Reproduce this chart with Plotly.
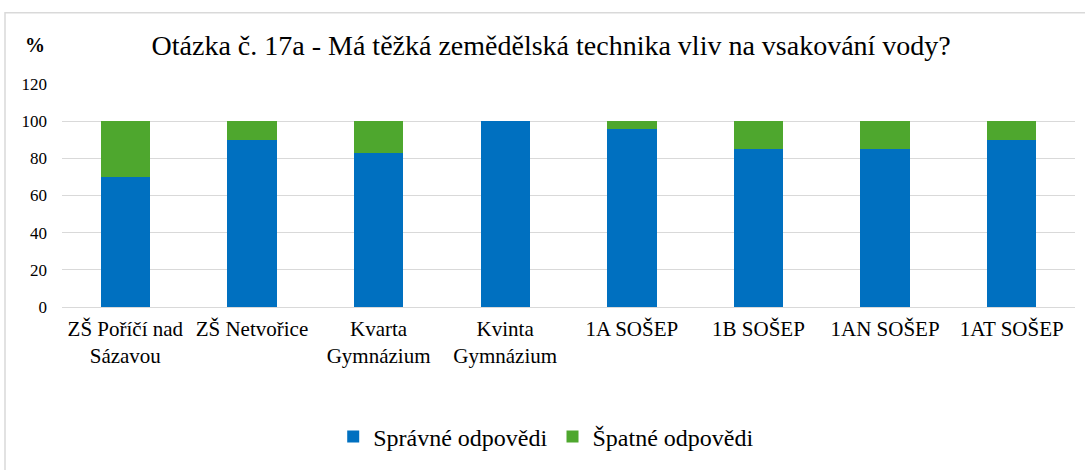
import plotly.graph_objects as go

categories = ["ZŠ Poříčí nad<br>Sázavou", "ZŠ Netvořice", "Kvarta<br>Gymnázium", "Kvinta<br>Gymnázium",
              "1A SOŠEP", "1B SOŠEP", "1AN SOŠEP", "1AT SOŠEP"]
spravne = [70, 90, 83, 100, 96, 85, 85, 90]
spatne = [30, 10, 17, 0, 4, 15, 15, 10]
y_ticks = [0, 20, 40, 60, 80, 100, 120]

FONT = "Liberation Serif"

fig = go.Figure()
fig.add_trace(go.Bar(x=categories, y=spravne, name="Správné odpovědi", marker_color="#0070c0"))
fig.add_trace(go.Bar(x=categories, y=spatne, name="Špatné odpovědi", marker_color="#4ea72e"))

fig.update_layout(
    template="none",
    width=1085, height=470,
    barmode="stack", bargap=0.61,
    paper_bgcolor="white", plot_bgcolor="white",
    margin=dict(l=62, r=10, t=84, b=161),
    font=dict(family=FONT, color="#000000", size=16),
    title=dict(text="Otázka č. 17a - Má těžká zemědělská technika vliv na vsakování vody?",
               x=0.508, xanchor="center", y=1 - 45 / 470, yanchor="middle",
               font=dict(family=FONT, size=28, color="#000000")),
    showlegend=True,
    legend=dict(orientation="h", x=0.478, xanchor="center", y=-0.582, yanchor="middle",
                font=dict(family=FONT, size=24), traceorder="normal"),
    xaxis=dict(tickfont=dict(family=FONT, size=21), showline=False, ticks="", showgrid=False,
               ticklabelstandoff=7),
    yaxis=dict(range=[0, 120], tickvals=y_ticks, showgrid=True, gridcolor="#d9d9d9", gridwidth=1,
               zeroline=True, zerolinecolor="#d9d9d9", zerolinewidth=1, showline=False,
               tickfont=dict(family=FONT, size=17), ticks="", ticklabelstandoff=14),
    annotations=[dict(text="<b>%</b>", xref="paper", yref="paper", x=(35 - 62) / 1013, y=1 + (84 - 45) / 225,
                      showarrow=False, font=dict(family=FONT, size=20), xanchor="center", yanchor="middle")],
    shapes=[dict(type="rect", xref="paper", yref="paper", x0=(5 - 62) / 1013, x1=1.2, y0=-1.0,
                 y1=1 + (84 - 12) / 225, line=dict(color="#d9d9d9", width=1.5), layer="below")],
)

fig.write_html("out.html", config={"displayModeBar": False},
               post_script="document.body.style.margin='0';")
